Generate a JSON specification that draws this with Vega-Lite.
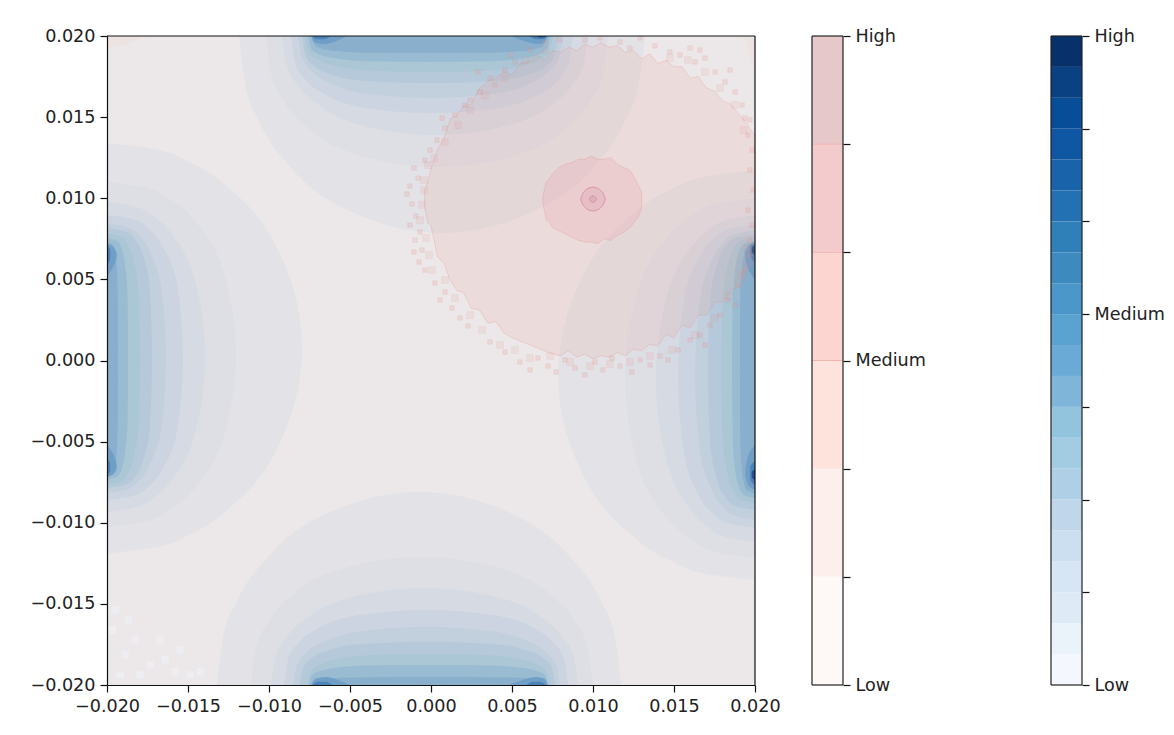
{"$schema":"https://vega.github.io/schema/vega-lite/v6.json","background":"white","padding":{"left":29,"top":27,"right":0,"bottom":0},"bounds":"flush","spacing":57,"resolve":{"scale":{"color":"independent"}},
"config":{"view":{"stroke":null},"axis":{"labelFont":"DejaVu Sans","labelFontSize":17.6,"labelColor":"#222","tickColor":"#111","domainColor":"#111","tickSize":7,"tickWidth":1.2,"domainWidth":1.2,"labelPadding":5,"grid":false,"title":null,"labelOverlap":false,"labelFlush":false}},
"datasets":{
"hlobes":[
{"k":1,"s":"L","p":0.0134,"v":-0.02,"e":-0.02},{"k":1,"s":"L","p":0.01302,"v":-0.01707,"e":-0.02},{"k":1,"s":"L","p":0.01214,"v":-0.01475,"e":-0.02},{"k":1,"s":"L","p":0.01024,"v":-0.01204,"e":-0.02},{"k":1,"s":"L","p":0.00708,"v":-0.00957,"e":-0.02},{"k":1,"s":"L","p":0.00075,"v":-0.00796,"e":-0.02},{"k":1,"s":"L","p":-0.00558,"v":-0.00957,"e":-0.02},{"k":1,"s":"L","p":-0.00874,"v":-0.01204,"e":-0.02},{"k":1,"s":"L","p":-0.01064,"v":-0.01475,"e":-0.02},{"k":1,"s":"L","p":-0.01152,"v":-0.01707,"e":-0.02},{"k":1,"s":"L","p":-0.0119,"v":-0.02,"e":-0.02},
{"k":1,"s":"R","p":0.01174,"v":0.02,"e":0.02},{"k":1,"s":"R","p":0.01136,"v":0.01705,"e":0.02},{"k":1,"s":"R","p":0.01048,"v":0.0147,"e":0.02},{"k":1,"s":"R","p":0.00858,"v":0.01196,"e":0.02},{"k":1,"s":"R","p":0.00542,"v":0.00947,"e":0.02},{"k":1,"s":"R","p":-0.0009,"v":0.00784,"e":0.02},{"k":1,"s":"R","p":-0.00722,"v":0.00947,"e":0.02},{"k":1,"s":"R","p":-0.01038,"v":0.01196,"e":0.02},{"k":1,"s":"R","p":-0.01228,"v":0.0147,"e":0.02},{"k":1,"s":"R","p":-0.01316,"v":0.01705,"e":0.02},{"k":1,"s":"R","p":-0.01353,"v":0.02,"e":0.02},
{"k":2,"s":"L","p":0.011,"v":-0.02,"e":-0.02},{"k":2,"s":"L","p":0.01068,"v":-0.0177,"e":-0.02},{"k":2,"s":"L","p":0.00994,"v":-0.01611,"e":-0.02},{"k":2,"s":"L","p":0.00834,"v":-0.01436,"e":-0.02},{"k":2,"s":"L","p":0.00569,"v":-0.01288,"e":-0.02},{"k":2,"s":"L","p":0.00037,"v":-0.01204,"e":-0.02},{"k":2,"s":"L","p":-0.00495,"v":-0.01288,"e":-0.02},{"k":2,"s":"L","p":-0.0076,"v":-0.01436,"e":-0.02},{"k":2,"s":"L","p":-0.0092,"v":-0.01611,"e":-0.02},{"k":2,"s":"L","p":-0.00994,"v":-0.0177,"e":-0.02},{"k":2,"s":"L","p":-0.01026,"v":-0.02,"e":-0.02},
{"k":2,"s":"R","p":0.01,"v":0.02,"e":0.02},{"k":2,"s":"R","p":0.00967,"v":0.01768,"e":0.02},{"k":2,"s":"R","p":0.00889,"v":0.01608,"e":0.02},{"k":2,"s":"R","p":0.00723,"v":0.01431,"e":0.02},{"k":2,"s":"R","p":0.00446,"v":0.01283,"e":0.02},{"k":2,"s":"R","p":-0.00108,"v":0.01198,"e":0.02},{"k":2,"s":"R","p":-0.00662,"v":0.01283,"e":0.02},{"k":2,"s":"R","p":-0.00939,"v":0.01431,"e":0.02},{"k":2,"s":"R","p":-0.01105,"v":0.01608,"e":0.02},{"k":2,"s":"R","p":-0.01183,"v":0.01768,"e":0.02},{"k":2,"s":"R","p":-0.01217,"v":0.02,"e":0.02},
{"k":3,"s":"L","p":0.00977,"v":-0.02,"e":-0.02},{"k":3,"s":"L","p":0.00948,"v":-0.01825,"e":-0.02},{"k":3,"s":"L","p":0.00882,"v":-0.01704,"e":-0.02},{"k":3,"s":"L","p":0.00738,"v":-0.01571,"e":-0.02},{"k":3,"s":"L","p":0.005,"v":-0.01459,"e":-0.02},{"k":3,"s":"L","p":0.00022,"v":-0.01395,"e":-0.02},{"k":3,"s":"L","p":-0.00456,"v":-0.01459,"e":-0.02},{"k":3,"s":"L","p":-0.00694,"v":-0.01571,"e":-0.02},{"k":3,"s":"L","p":-0.00838,"v":-0.01704,"e":-0.02},{"k":3,"s":"L","p":-0.00904,"v":-0.01825,"e":-0.02},{"k":3,"s":"L","p":-0.00934,"v":-0.02,"e":-0.02},
{"k":3,"s":"R","p":0.00896,"v":0.02,"e":0.02},{"k":3,"s":"R","p":0.00866,"v":0.01823,"e":0.02},{"k":3,"s":"R","p":0.00795,"v":0.01701,"e":0.02},{"k":3,"s":"R","p":0.00644,"v":0.01567,"e":0.02},{"k":3,"s":"R","p":0.00392,"v":0.01454,"e":0.02},{"k":3,"s":"R","p":-0.00112,"v":0.01389,"e":0.02},{"k":3,"s":"R","p":-0.00616,"v":0.01454,"e":0.02},{"k":3,"s":"R","p":-0.00868,"v":0.01567,"e":0.02},{"k":3,"s":"R","p":-0.01019,"v":0.01701,"e":0.02},{"k":3,"s":"R","p":-0.0109,"v":0.01823,"e":0.02},{"k":3,"s":"R","p":-0.0112,"v":0.02,"e":0.02},
{"k":4,"s":"L","p":0.00896,"v":-0.02,"e":-0.02},{"k":4,"s":"L","p":0.0087,"v":-0.01835,"e":-0.02},{"k":4,"s":"L","p":0.00808,"v":-0.01739,"e":-0.02},{"k":4,"s":"L","p":0.00677,"v":-0.01641,"e":-0.02},{"k":4,"s":"L","p":0.00457,"v":-0.01566,"e":-0.02},{"k":4,"s":"L","p":0.00018,"v":-0.01531,"e":-0.02},{"k":4,"s":"L","p":-0.00421,"v":-0.01566,"e":-0.02},{"k":4,"s":"L","p":-0.00641,"v":-0.01641,"e":-0.02},{"k":4,"s":"L","p":-0.00772,"v":-0.01739,"e":-0.02},{"k":4,"s":"L","p":-0.00834,"v":-0.01835,"e":-0.02},{"k":4,"s":"L","p":-0.0086,"v":-0.02,"e":-0.02},
{"k":4,"s":"R","p":0.00835,"v":0.02,"e":0.02},{"k":4,"s":"R","p":0.00807,"v":0.01833,"e":0.02},{"k":4,"s":"R","p":0.00742,"v":0.01735,"e":0.02},{"k":4,"s":"R","p":0.00602,"v":0.01636,"e":0.02},{"k":4,"s":"R","p":0.00369,"v":0.01561,"e":0.02},{"k":4,"s":"R","p":-0.00098,"v":0.01525,"e":0.02},{"k":4,"s":"R","p":-0.00565,"v":0.01561,"e":0.02},{"k":4,"s":"R","p":-0.00798,"v":0.01636,"e":0.02},{"k":4,"s":"R","p":-0.00938,"v":0.01735,"e":0.02},{"k":4,"s":"R","p":-0.01003,"v":0.01833,"e":0.02},{"k":4,"s":"R","p":-0.0103,"v":0.02,"e":0.02},
{"k":5,"s":"L","p":0.00847,"v":-0.02,"e":-0.02},{"k":5,"s":"L","p":0.00822,"v":-0.01872,"e":-0.02},{"k":5,"s":"L","p":0.00764,"v":-0.01797,"e":-0.02},{"k":5,"s":"L","p":0.00639,"v":-0.01721,"e":-0.02},{"k":5,"s":"L","p":0.00431,"v":-0.01663,"e":-0.02},{"k":5,"s":"L","p":0.00015,"v":-0.01636,"e":-0.02},{"k":5,"s":"L","p":-0.00401,"v":-0.01663,"e":-0.02},{"k":5,"s":"L","p":-0.00609,"v":-0.01721,"e":-0.02},{"k":5,"s":"L","p":-0.00734,"v":-0.01797,"e":-0.02},{"k":5,"s":"L","p":-0.00792,"v":-0.01872,"e":-0.02},{"k":5,"s":"L","p":-0.00817,"v":-0.02,"e":-0.02},
{"k":5,"s":"R","p":0.00804,"v":0.02,"e":0.02},{"k":5,"s":"R","p":0.00776,"v":0.0187,"e":0.02},{"k":5,"s":"R","p":0.00714,"v":0.01794,"e":0.02},{"k":5,"s":"R","p":0.0058,"v":0.01717,"e":0.02},{"k":5,"s":"R","p":0.00356,"v":0.01658,"e":0.02},{"k":5,"s":"R","p":-0.0009,"v":0.0163,"e":0.02},{"k":5,"s":"R","p":-0.00536,"v":0.01658,"e":0.02},{"k":5,"s":"R","p":-0.0076,"v":0.01717,"e":0.02},{"k":5,"s":"R","p":-0.00894,"v":0.01794,"e":0.02},{"k":5,"s":"R","p":-0.00956,"v":0.0187,"e":0.02},{"k":5,"s":"R","p":-0.00983,"v":0.02,"e":0.02},
{"k":6,"s":"L","p":0.00816,"v":-0.02,"e":-0.02},{"k":6,"s":"L","p":0.00792,"v":-0.01877,"e":-0.02},{"k":6,"s":"L","p":0.00736,"v":-0.0182,"e":-0.02},{"k":6,"s":"L","p":0.00616,"v":-0.01768,"e":-0.02},{"k":6,"s":"L","p":0.00416,"v":-0.01734,"e":-0.02},{"k":6,"s":"L","p":0.00015,"v":-0.01722,"e":-0.02},{"k":6,"s":"L","p":-0.00386,"v":-0.01734,"e":-0.02},{"k":6,"s":"L","p":-0.00586,"v":-0.01768,"e":-0.02},{"k":6,"s":"L","p":-0.00706,"v":-0.0182,"e":-0.02},{"k":6,"s":"L","p":-0.00762,"v":-0.01877,"e":-0.02},{"k":6,"s":"L","p":-0.00786,"v":-0.02,"e":-0.02},
{"k":6,"s":"R","p":0.0078,"v":0.02,"e":0.02},{"k":6,"s":"R","p":0.00755,"v":0.01872,"e":0.02},{"k":6,"s":"R","p":0.00695,"v":0.01812,"e":0.02},{"k":6,"s":"R","p":0.00568,"v":0.01758,"e":0.02},{"k":6,"s":"R","p":0.00355,"v":0.01723,"e":0.02},{"k":6,"s":"R","p":-0.0007,"v":0.0171,"e":0.02},{"k":6,"s":"R","p":-0.00495,"v":0.01723,"e":0.02},{"k":6,"s":"R","p":-0.00708,"v":0.01758,"e":0.02},{"k":6,"s":"R","p":-0.00835,"v":0.01812,"e":0.02},{"k":6,"s":"R","p":-0.00895,"v":0.01872,"e":0.02},{"k":6,"s":"R","p":-0.0092,"v":0.02,"e":0.02},
{"k":7,"s":"L","p":0.00785,"v":-0.02,"e":-0.02},{"k":7,"s":"L","p":0.00762,"v":-0.0191,"e":-0.02},{"k":7,"s":"L","p":0.00707,"v":-0.01868,"e":-0.02},{"k":7,"s":"L","p":0.00591,"v":-0.0183,"e":-0.02},{"k":7,"s":"L","p":0.00397,"v":-0.01805,"e":-0.02},{"k":7,"s":"L","p":0.00009,"v":-0.01796,"e":-0.02},{"k":7,"s":"L","p":-0.00379,"v":-0.01805,"e":-0.02},{"k":7,"s":"L","p":-0.00573,"v":-0.0183,"e":-0.02},{"k":7,"s":"L","p":-0.00689,"v":-0.01868,"e":-0.02},{"k":7,"s":"L","p":-0.00744,"v":-0.0191,"e":-0.02},{"k":7,"s":"L","p":-0.00767,"v":-0.02,"e":-0.02},
{"k":7,"s":"R","p":0.0076,"v":0.02,"e":0.02},{"k":7,"s":"R","p":0.00735,"v":0.01907,"e":0.02},{"k":7,"s":"R","p":0.00678,"v":0.01864,"e":0.02},{"k":7,"s":"R","p":0.00555,"v":0.01825,"e":0.02},{"k":7,"s":"R","p":0.0035,"v":0.01799,"e":0.02},{"k":7,"s":"R","p":-0.0006,"v":0.0179,"e":0.02},{"k":7,"s":"R","p":-0.0047,"v":0.01799,"e":0.02},{"k":7,"s":"R","p":-0.00675,"v":0.01825,"e":0.02},{"k":7,"s":"R","p":-0.00798,"v":0.01864,"e":0.02},{"k":7,"s":"R","p":-0.00855,"v":0.01907,"e":0.02},{"k":7,"s":"R","p":-0.0088,"v":0.02,"e":0.02},
{"k":8,"s":"L","p":0.00755,"v":-0.02,"e":-0.02},{"k":8,"s":"L","p":0.00733,"v":-0.01933,"e":-0.02},{"k":8,"s":"L","p":0.00681,"v":-0.01907,"e":-0.02},{"k":8,"s":"L","p":0.00569,"v":-0.01886,"e":-0.02},{"k":8,"s":"L","p":0.00383,"v":-0.01873,"e":-0.02},{"k":8,"s":"L","p":0.0001,"v":-0.0187,"e":-0.02},{"k":8,"s":"L","p":-0.00363,"v":-0.01873,"e":-0.02},{"k":8,"s":"L","p":-0.00549,"v":-0.01886,"e":-0.02},{"k":8,"s":"L","p":-0.00661,"v":-0.01907,"e":-0.02},{"k":8,"s":"L","p":-0.00713,"v":-0.01933,"e":-0.02},{"k":8,"s":"L","p":-0.00736,"v":-0.02,"e":-0.02},
{"k":8,"s":"R","p":0.0074,"v":0.02,"e":0.02},{"k":8,"s":"R","p":0.00716,"v":0.01926,"e":0.02},{"k":8,"s":"R","p":0.0066,"v":0.01898,"e":0.02},{"k":8,"s":"R","p":0.00541,"v":0.01875,"e":0.02},{"k":8,"s":"R","p":0.00343,"v":0.01862,"e":0.02},{"k":8,"s":"R","p":-0.00055,"v":0.01858,"e":0.02},{"k":8,"s":"R","p":-0.00453,"v":0.01862,"e":0.02},{"k":8,"s":"R","p":-0.00651,"v":0.01875,"e":0.02},{"k":8,"s":"R","p":-0.0077,"v":0.01898,"e":0.02},{"k":8,"s":"R","p":-0.00826,"v":0.01926,"e":0.02},{"k":8,"s":"R","p":-0.0085,"v":0.02,"e":0.02},
{"k":9,"s":"L","p":0.0073,"v":-0.02,"e":-0.02},{"k":9,"s":"L","p":0.00708,"v":-0.0196,"e":-0.02},{"k":9,"s":"L","p":0.00658,"v":-0.01948,"e":-0.02},{"k":9,"s":"L","p":0.00549,"v":-0.01938,"e":-0.02},{"k":9,"s":"L","p":0.00368,"v":-0.01933,"e":-0.02},{"k":9,"s":"L","p":0.00006,"v":-0.01932,"e":-0.02},{"k":9,"s":"L","p":-0.00356,"v":-0.01933,"e":-0.02},{"k":9,"s":"L","p":-0.00537,"v":-0.01938,"e":-0.02},{"k":9,"s":"L","p":-0.00646,"v":-0.01948,"e":-0.02},{"k":9,"s":"L","p":-0.00696,"v":-0.0196,"e":-0.02},{"k":9,"s":"L","p":-0.00718,"v":-0.02,"e":-0.02},
{"k":9,"s":"R","p":0.0072,"v":0.02,"e":0.02},{"k":9,"s":"R","p":0.00697,"v":0.01946,"e":0.02},{"k":9,"s":"R","p":0.00643,"v":0.01929,"e":0.02},{"k":9,"s":"R","p":0.00528,"v":0.01915,"e":0.02},{"k":9,"s":"R","p":0.00335,"v":0.01908,"e":0.02},{"k":9,"s":"R","p":-0.0005,"v":0.01907,"e":0.02},{"k":9,"s":"R","p":-0.00435,"v":0.01908,"e":0.02},{"k":9,"s":"R","p":-0.00628,"v":0.01915,"e":0.02},{"k":9,"s":"R","p":-0.00743,"v":0.01929,"e":0.02},{"k":9,"s":"R","p":-0.00797,"v":0.01946,"e":0.02},{"k":9,"s":"R","p":-0.0082,"v":0.02,"e":0.02},
{"k":10,"s":"LU","p":0.0072,"v":-0.02,"e":-0.02},{"k":10,"s":"LU","p":0.007,"v":-0.0196,"e":-0.02},{"k":10,"s":"LU","p":0.0065,"v":-0.0194,"e":-0.02},{"k":10,"s":"LU","p":0.0058,"v":-0.0196,"e":-0.02},{"k":10,"s":"LU","p":0.0052,"v":-0.02,"e":-0.02},
{"k":10,"s":"LL","p":-0.0052,"v":-0.02,"e":-0.02},{"k":10,"s":"LL","p":-0.0058,"v":-0.0196,"e":-0.02},{"k":10,"s":"LL","p":-0.0066,"v":-0.0194,"e":-0.02},{"k":10,"s":"LL","p":-0.007,"v":-0.0196,"e":-0.02},{"k":10,"s":"LL","p":-0.0072,"v":-0.02,"e":-0.02},
{"k":10,"s":"RU","p":0.0073,"v":0.02,"e":0.02},{"k":10,"s":"RU","p":0.0071,"v":0.0196,"e":0.02},{"k":10,"s":"RU","p":0.0065,"v":0.0194,"e":0.02},{"k":10,"s":"RU","p":0.0056,"v":0.0196,"e":0.02},{"k":10,"s":"RU","p":0.005,"v":0.02,"e":0.02},
{"k":10,"s":"RL","p":-0.0052,"v":0.02,"e":0.02},{"k":10,"s":"RL","p":-0.0058,"v":0.0196,"e":0.02},{"k":10,"s":"RL","p":-0.007,"v":0.0194,"e":0.02},{"k":10,"s":"RL","p":-0.0077,"v":0.0196,"e":0.02},{"k":10,"s":"RL","p":-0.008,"v":0.02,"e":0.02},
{"k":11,"s":"LU","p":0.0071,"v":-0.02,"e":-0.02},{"k":11,"s":"LU","p":0.0068,"v":-0.0198,"e":-0.02},{"k":11,"s":"LU","p":0.0063,"v":-0.0198,"e":-0.02},{"k":11,"s":"LU","p":0.0059,"v":-0.02,"e":-0.02},
{"k":11,"s":"LL","p":-0.006,"v":-0.02,"e":-0.02},{"k":11,"s":"LL","p":-0.0064,"v":-0.0198,"e":-0.02},{"k":11,"s":"LL","p":-0.0068,"v":-0.0198,"e":-0.02},{"k":11,"s":"LL","p":-0.0071,"v":-0.02,"e":-0.02},
{"k":11,"s":"RU","p":0.0072,"v":0.02,"e":0.02},{"k":11,"s":"RU","p":0.007,"v":0.0197,"e":0.02},{"k":11,"s":"RU","p":0.0065,"v":0.0197,"e":0.02},{"k":11,"s":"RU","p":0.006,"v":0.02,"e":0.02},
{"k":11,"s":"RL","p":-0.0062,"v":0.02,"e":0.02},{"k":11,"s":"RL","p":-0.0066,"v":0.0197,"e":0.02},{"k":11,"s":"RL","p":-0.0073,"v":0.0197,"e":0.02},{"k":11,"s":"RL","p":-0.0077,"v":0.02,"e":0.02},
{"k":12,"s":"RU","p":0.0071,"v":0.02,"e":0.02},{"k":12,"s":"RU","p":0.0069,"v":0.0198,"e":0.02},{"k":12,"s":"RU","p":0.0067,"v":0.0198,"e":0.02},{"k":12,"s":"RU","p":0.0065,"v":0.02,"e":0.02},
{"k":12,"s":"RL","p":-0.0067,"v":0.02,"e":0.02},{"k":12,"s":"RL","p":-0.0069,"v":0.0198,"e":0.02},{"k":12,"s":"RL","p":-0.0072,"v":0.0198,"e":0.02},{"k":12,"s":"RL","p":-0.0074,"v":0.02,"e":0.02}
],
"vlobes":[
{"k":1,"s":"T","p":-0.01185,"v":0.02,"e":0.02},{"k":1,"s":"T","p":-0.01147,"v":0.01705,"e":0.02},{"k":1,"s":"T","p":-0.0106,"v":0.01471,"e":0.02},{"k":1,"s":"T","p":-0.00872,"v":0.01198,"e":0.02},{"k":1,"s":"T","p":-0.00559,"v":0.00949,"e":0.02},{"k":1,"s":"T","p":0.00068,"v":0.00786,"e":0.02},{"k":1,"s":"T","p":0.00695,"v":0.00949,"e":0.02},{"k":1,"s":"T","p":0.01008,"v":0.01198,"e":0.02},{"k":1,"s":"T","p":0.01196,"v":0.01471,"e":0.02},{"k":1,"s":"T","p":0.01283,"v":0.01705,"e":0.02},{"k":1,"s":"T","p":0.01321,"v":0.02,"e":0.02},
{"k":1,"s":"B","p":-0.01321,"v":-0.02,"e":-0.02},{"k":1,"s":"B","p":-0.01284,"v":-0.01711,"e":-0.02},{"k":1,"s":"B","p":-0.01196,"v":-0.01481,"e":-0.02},{"k":1,"s":"B","p":-0.01009,"v":-0.01213,"e":-0.02},{"k":1,"s":"B","p":-0.00698,"v":-0.00969,"e":-0.02},{"k":1,"s":"B","p":-0.00074,"v":-0.0081,"e":-0.02},{"k":1,"s":"B","p":0.0055,"v":-0.00969,"e":-0.02},{"k":1,"s":"B","p":0.00861,"v":-0.01213,"e":-0.02},{"k":1,"s":"B","p":0.01048,"v":-0.01481,"e":-0.02},{"k":1,"s":"B","p":0.01136,"v":-0.01711,"e":-0.02},{"k":1,"s":"B","p":0.01173,"v":-0.02,"e":-0.02},
{"k":2,"s":"T","p":-0.01019,"v":0.02,"e":0.02},{"k":2,"s":"T","p":-0.00987,"v":0.01767,"e":0.02},{"k":2,"s":"T","p":-0.00913,"v":0.01605,"e":0.02},{"k":2,"s":"T","p":-0.00755,"v":0.01428,"e":0.02},{"k":2,"s":"T","p":-0.00491,"v":0.01279,"e":0.02},{"k":2,"s":"T","p":0.00037,"v":0.01193,"e":0.02},{"k":2,"s":"T","p":0.00565,"v":0.01279,"e":0.02},{"k":2,"s":"T","p":0.00829,"v":0.01428,"e":0.02},{"k":2,"s":"T","p":0.00987,"v":0.01605,"e":0.02},{"k":2,"s":"T","p":0.01061,"v":0.01767,"e":0.02},{"k":2,"s":"T","p":0.01093,"v":0.02,"e":0.02},
{"k":2,"s":"B","p":-0.01112,"v":-0.02,"e":-0.02},{"k":2,"s":"B","p":-0.0108,"v":-0.01772,"e":-0.02},{"k":2,"s":"B","p":-0.01006,"v":-0.01614,"e":-0.02},{"k":2,"s":"B","p":-0.00848,"v":-0.01441,"e":-0.02},{"k":2,"s":"B","p":-0.00584,"v":-0.01295,"e":-0.02},{"k":2,"s":"B","p":-0.00056,"v":-0.01211,"e":-0.02},{"k":2,"s":"B","p":0.00472,"v":-0.01295,"e":-0.02},{"k":2,"s":"B","p":0.00736,"v":-0.01441,"e":-0.02},{"k":2,"s":"B","p":0.00894,"v":-0.01614,"e":-0.02},{"k":2,"s":"B","p":0.00968,"v":-0.01772,"e":-0.02},{"k":2,"s":"B","p":0.01,"v":-0.02,"e":-0.02},
{"k":3,"s":"T","p":-0.0092,"v":0.02,"e":0.02},{"k":3,"s":"T","p":-0.00892,"v":0.01824,"e":0.02},{"k":3,"s":"T","p":-0.00826,"v":0.01702,"e":0.02},{"k":3,"s":"T","p":-0.00684,"v":0.01568,"e":0.02},{"k":3,"s":"T","p":-0.00448,"v":0.01455,"e":0.02},{"k":3,"s":"T","p":0.00025,"v":0.0139,"e":0.02},{"k":3,"s":"T","p":0.00498,"v":0.01455,"e":0.02},{"k":3,"s":"T","p":0.00734,"v":0.01568,"e":0.02},{"k":3,"s":"T","p":0.00876,"v":0.01702,"e":0.02},{"k":3,"s":"T","p":0.00942,"v":0.01824,"e":0.02},{"k":3,"s":"T","p":0.0097,"v":0.02,"e":0.02},
{"k":3,"s":"B","p":-0.00988,"v":-0.02,"e":-0.02},{"k":3,"s":"B","p":-0.0096,"v":-0.01827,"e":-0.02},{"k":3,"s":"B","p":-0.00893,"v":-0.01708,"e":-0.02},{"k":3,"s":"B","p":-0.00751,"v":-0.01576,"e":-0.02},{"k":3,"s":"B","p":-0.00514,"v":-0.01465,"e":-0.02},{"k":3,"s":"B","p":-0.0004,"v":-0.01402,"e":-0.02},{"k":3,"s":"B","p":0.00434,"v":-0.01465,"e":-0.02},{"k":3,"s":"B","p":0.00671,"v":-0.01576,"e":-0.02},{"k":3,"s":"B","p":0.00813,"v":-0.01708,"e":-0.02},{"k":3,"s":"B","p":0.0088,"v":-0.01827,"e":-0.02},{"k":3,"s":"B","p":0.00908,"v":-0.02,"e":-0.02},
{"k":4,"s":"T","p":-0.00864,"v":0.02,"e":0.02},{"k":4,"s":"T","p":-0.00838,"v":0.01833,"e":0.02},{"k":4,"s":"T","p":-0.00777,"v":0.01735,"e":0.02},{"k":4,"s":"T","p":-0.00647,"v":0.01636,"e":0.02},{"k":4,"s":"T","p":-0.00429,"v":0.01561,"e":0.02},{"k":4,"s":"T","p":0.00006,"v":0.01525,"e":0.02},{"k":4,"s":"T","p":0.00441,"v":0.01561,"e":0.02},{"k":4,"s":"T","p":0.00659,"v":0.01636,"e":0.02},{"k":4,"s":"T","p":0.00789,"v":0.01735,"e":0.02},{"k":4,"s":"T","p":0.0085,"v":0.01833,"e":0.02},{"k":4,"s":"T","p":0.00876,"v":0.02,"e":0.02},
{"k":4,"s":"B","p":-0.00907,"v":-0.02,"e":-0.02},{"k":4,"s":"B","p":-0.00881,"v":-0.01838,"e":-0.02},{"k":4,"s":"B","p":-0.00819,"v":-0.01743,"e":-0.02},{"k":4,"s":"B","p":-0.00688,"v":-0.01646,"e":-0.02},{"k":4,"s":"B","p":-0.00469,"v":-0.01573,"e":-0.02},{"k":4,"s":"B","p":-0.0003,"v":-0.01538,"e":-0.02},{"k":4,"s":"B","p":0.00409,"v":-0.01573,"e":-0.02},{"k":4,"s":"B","p":0.00628,"v":-0.01646,"e":-0.02},{"k":4,"s":"B","p":0.00759,"v":-0.01743,"e":-0.02},{"k":4,"s":"B","p":0.00821,"v":-0.01838,"e":-0.02},{"k":4,"s":"B","p":0.00847,"v":-0.02,"e":-0.02},
{"k":5,"s":"T","p":-0.00821,"v":0.02,"e":0.02},{"k":5,"s":"T","p":-0.00796,"v":0.01866,"e":0.02},{"k":5,"s":"T","p":-0.00739,"v":0.01787,"e":0.02},{"k":5,"s":"T","p":-0.00617,"v":0.01707,"e":0.02},{"k":5,"s":"T","p":-0.00412,"v":0.01647,"e":0.02},{"k":5,"s":"T","p":-0.00003,"v":0.01618,"e":0.02},{"k":5,"s":"T","p":0.00406,"v":0.01647,"e":0.02},{"k":5,"s":"T","p":0.00611,"v":0.01707,"e":0.02},{"k":5,"s":"T","p":0.00733,"v":0.01787,"e":0.02},{"k":5,"s":"T","p":0.0079,"v":0.01866,"e":0.02},{"k":5,"s":"T","p":0.00815,"v":0.02,"e":0.02},
{"k":5,"s":"B","p":-0.00852,"v":-0.02,"e":-0.02},{"k":5,"s":"B","p":-0.00827,"v":-0.01875,"e":-0.02},{"k":5,"s":"B","p":-0.0077,"v":-0.01801,"e":-0.02},{"k":5,"s":"B","p":-0.00646,"v":-0.01727,"e":-0.02},{"k":5,"s":"B","p":-0.0044,"v":-0.0167,"e":-0.02},{"k":5,"s":"B","p":-0.00028,"v":-0.01643,"e":-0.02},{"k":5,"s":"B","p":0.00384,"v":-0.0167,"e":-0.02},{"k":5,"s":"B","p":0.0059,"v":-0.01727,"e":-0.02},{"k":5,"s":"B","p":0.00714,"v":-0.01801,"e":-0.02},{"k":5,"s":"B","p":0.00771,"v":-0.01875,"e":-0.02},{"k":5,"s":"B","p":0.00796,"v":-0.02,"e":-0.02},
{"k":6,"s":"T","p":-0.00796,"v":0.02,"e":0.02},{"k":6,"s":"T","p":-0.00772,"v":0.01872,"e":0.02},{"k":6,"s":"T","p":-0.00717,"v":0.01812,"e":0.02},{"k":6,"s":"T","p":-0.00599,"v":0.01758,"e":0.02},{"k":6,"s":"T","p":-0.00401,"v":0.01723,"e":0.02},{"k":6,"s":"T","p":-0.00006,"v":0.0171,"e":0.02},{"k":6,"s":"T","p":0.00389,"v":0.01723,"e":0.02},{"k":6,"s":"T","p":0.00587,"v":0.01758,"e":0.02},{"k":6,"s":"T","p":0.00705,"v":0.01812,"e":0.02},{"k":6,"s":"T","p":0.0076,"v":0.01872,"e":0.02},{"k":6,"s":"T","p":0.00784,"v":0.02,"e":0.02},
{"k":6,"s":"B","p":-0.00809,"v":-0.02,"e":-0.02},{"k":6,"s":"B","p":-0.00785,"v":-0.01883,"e":-0.02},{"k":6,"s":"B","p":-0.0073,"v":-0.01829,"e":-0.02},{"k":6,"s":"B","p":-0.00612,"v":-0.01779,"e":-0.02},{"k":6,"s":"B","p":-0.00416,"v":-0.01747,"e":-0.02},{"k":6,"s":"B","p":-0.00022,"v":-0.01735,"e":-0.02},{"k":6,"s":"B","p":0.00372,"v":-0.01747,"e":-0.02},{"k":6,"s":"B","p":0.00568,"v":-0.01779,"e":-0.02},{"k":6,"s":"B","p":0.00686,"v":-0.01829,"e":-0.02},{"k":6,"s":"B","p":0.00741,"v":-0.01883,"e":-0.02},{"k":6,"s":"B","p":0.00765,"v":-0.02,"e":-0.02},
{"k":7,"s":"T","p":-0.00778,"v":0.02,"e":0.02},{"k":7,"s":"T","p":-0.00755,"v":0.01902,"e":0.02},{"k":7,"s":"T","p":-0.00701,"v":0.01856,"e":0.02},{"k":7,"s":"T","p":-0.00587,"v":0.01815,"e":0.02},{"k":7,"s":"T","p":-0.00395,"v":0.01788,"e":0.02},{"k":7,"s":"T","p":-0.00012,"v":0.01778,"e":0.02},{"k":7,"s":"T","p":0.00371,"v":0.01788,"e":0.02},{"k":7,"s":"T","p":0.00563,"v":0.01815,"e":0.02},{"k":7,"s":"T","p":0.00677,"v":0.01856,"e":0.02},{"k":7,"s":"T","p":0.00731,"v":0.01902,"e":0.02},{"k":7,"s":"T","p":0.00754,"v":0.02,"e":0.02},
{"k":7,"s":"B","p":-0.00765,"v":-0.02,"e":-0.02},{"k":7,"s":"B","p":-0.00743,"v":-0.01915,"e":-0.02},{"k":7,"s":"B","p":-0.0069,"v":-0.01876,"e":-0.02},{"k":7,"s":"B","p":-0.00578,"v":-0.01841,"e":-0.02},{"k":7,"s":"B","p":-0.0039,"v":-0.01817,"e":-0.02},{"k":7,"s":"B","p":-0.00015,"v":-0.01809,"e":-0.02},{"k":7,"s":"B","p":0.0036,"v":-0.01817,"e":-0.02},{"k":7,"s":"B","p":0.00548,"v":-0.01841,"e":-0.02},{"k":7,"s":"B","p":0.0066,"v":-0.01876,"e":-0.02},{"k":7,"s":"B","p":0.00713,"v":-0.01915,"e":-0.02},{"k":7,"s":"B","p":0.00735,"v":-0.02,"e":-0.02},
{"k":8,"s":"T","p":-0.00759,"v":0.02,"e":0.02},{"k":8,"s":"T","p":-0.00737,"v":0.01917,"e":0.02},{"k":8,"s":"T","p":-0.00684,"v":0.01886,"e":0.02},{"k":8,"s":"T","p":-0.00572,"v":0.0186,"e":0.02},{"k":8,"s":"T","p":-0.00386,"v":0.01844,"e":0.02},{"k":8,"s":"T","p":-0.00012,"v":0.0184,"e":0.02},{"k":8,"s":"T","p":0.00362,"v":0.01844,"e":0.02},{"k":8,"s":"T","p":0.00548,"v":0.0186,"e":0.02},{"k":8,"s":"T","p":0.0066,"v":0.01886,"e":0.02},{"k":8,"s":"T","p":0.00713,"v":0.01917,"e":0.02},{"k":8,"s":"T","p":0.00735,"v":0.02,"e":0.02},
{"k":8,"s":"B","p":-0.00753,"v":-0.02,"e":-0.02},{"k":8,"s":"B","p":-0.00731,"v":-0.01936,"e":-0.02},{"k":8,"s":"B","p":-0.00679,"v":-0.01912,"e":-0.02},{"k":8,"s":"B","p":-0.00569,"v":-0.01892,"e":-0.02},{"k":8,"s":"B","p":-0.00384,"v":-0.0188,"e":-0.02},{"k":8,"s":"B","p":-0.00015,"v":-0.01877,"e":-0.02},{"k":8,"s":"B","p":0.00354,"v":-0.0188,"e":-0.02},{"k":8,"s":"B","p":0.00539,"v":-0.01892,"e":-0.02},{"k":8,"s":"B","p":0.00649,"v":-0.01912,"e":-0.02},{"k":8,"s":"B","p":0.00701,"v":-0.01936,"e":-0.02},{"k":8,"s":"B","p":0.00723,"v":-0.02,"e":-0.02},
{"k":9,"s":"T","p":-0.00735,"v":0.02,"e":0.02},{"k":9,"s":"T","p":-0.00713,"v":0.01939,"e":0.02},{"k":9,"s":"T","p":-0.00663,"v":0.0192,"e":0.02},{"k":9,"s":"T","p":-0.00554,"v":0.01905,"e":0.02},{"k":9,"s":"T","p":-0.00373,"v":0.01897,"e":0.02},{"k":9,"s":"T","p":-0.0001,"v":0.01895,"e":0.02},{"k":9,"s":"T","p":0.00353,"v":0.01897,"e":0.02},{"k":9,"s":"T","p":0.00534,"v":0.01905,"e":0.02},{"k":9,"s":"T","p":0.00643,"v":0.0192,"e":0.02},{"k":9,"s":"T","p":0.00693,"v":0.01939,"e":0.02},{"k":9,"s":"T","p":0.00715,"v":0.02,"e":0.02},
{"k":9,"s":"B","p":-0.0074,"v":-0.02,"e":-0.02},{"k":9,"s":"B","p":-0.00718,"v":-0.01971,"e":-0.02},{"k":9,"s":"B","p":-0.00667,"v":-0.01962,"e":-0.02},{"k":9,"s":"B","p":-0.00558,"v":-0.01955,"e":-0.02},{"k":9,"s":"B","p":-0.00376,"v":-0.01952,"e":-0.02},{"k":9,"s":"B","p":-0.00012,"v":-0.01951,"e":-0.02},{"k":9,"s":"B","p":0.00352,"v":-0.01952,"e":-0.02},{"k":9,"s":"B","p":0.00534,"v":-0.01955,"e":-0.02},{"k":9,"s":"B","p":0.00643,"v":-0.01962,"e":-0.02},{"k":9,"s":"B","p":0.00694,"v":-0.01971,"e":-0.02},{"k":9,"s":"B","p":0.00716,"v":-0.02,"e":-0.02},
{"k":10,"s":"TL","p":-0.0074,"v":0.02,"e":0.02},{"k":10,"s":"TL","p":-0.0072,"v":0.0196,"e":0.02},{"k":10,"s":"TL","p":-0.0066,"v":0.0195,"e":0.02},{"k":10,"s":"TL","p":-0.0058,"v":0.0197,"e":0.02},{"k":10,"s":"TL","p":-0.0052,"v":0.02,"e":0.02},
{"k":10,"s":"TR","p":0.005,"v":0.02,"e":0.02},{"k":10,"s":"TR","p":0.0057,"v":0.0197,"e":0.02},{"k":10,"s":"TR","p":0.0066,"v":0.0195,"e":0.02},{"k":10,"s":"TR","p":0.007,"v":0.0196,"e":0.02},{"k":10,"s":"TR","p":0.0072,"v":0.02,"e":0.02},
{"k":10,"s":"BL","p":-0.0074,"v":-0.02,"e":-0.02},{"k":10,"s":"BL","p":-0.0071,"v":-0.0196,"e":-0.02},{"k":10,"s":"BL","p":-0.0065,"v":-0.0195,"e":-0.02},{"k":10,"s":"BL","p":-0.0057,"v":-0.0197,"e":-0.02},{"k":10,"s":"BL","p":-0.005,"v":-0.02,"e":-0.02},
{"k":10,"s":"BR","p":0.0048,"v":-0.02,"e":-0.02},{"k":10,"s":"BR","p":0.0056,"v":-0.0197,"e":-0.02},{"k":10,"s":"BR","p":0.0065,"v":-0.0195,"e":-0.02},{"k":10,"s":"BR","p":0.007,"v":-0.0196,"e":-0.02},{"k":10,"s":"BR","p":0.0072,"v":-0.02,"e":-0.02},
{"k":11,"s":"TL","p":-0.0073,"v":0.02,"e":0.02},{"k":11,"s":"TL","p":-0.0071,"v":0.0198,"e":0.02},{"k":11,"s":"TL","p":-0.0066,"v":0.0198,"e":0.02},{"k":11,"s":"TL","p":-0.0062,"v":0.02,"e":0.02},
{"k":11,"s":"TR","p":0.0061,"v":0.02,"e":0.02},{"k":11,"s":"TR","p":0.0065,"v":0.0198,"e":0.02},{"k":11,"s":"TR","p":0.0069,"v":0.0198,"e":0.02},{"k":11,"s":"TR","p":0.0072,"v":0.02,"e":0.02},
{"k":11,"s":"BL","p":-0.0073,"v":-0.02,"e":-0.02},{"k":11,"s":"BL","p":-0.007,"v":-0.0198,"e":-0.02},{"k":11,"s":"BL","p":-0.0065,"v":-0.0198,"e":-0.02},{"k":11,"s":"BL","p":-0.0061,"v":-0.02,"e":-0.02},
{"k":11,"s":"BR","p":0.0059,"v":-0.02,"e":-0.02},{"k":11,"s":"BR","p":0.0063,"v":-0.0198,"e":-0.02},{"k":11,"s":"BR","p":0.0067,"v":-0.0198,"e":-0.02},{"k":11,"s":"BR","p":0.0071,"v":-0.02,"e":-0.02},
{"k":12,"s":"TR","p":0.0065,"v":0.02,"e":0.02},{"k":12,"s":"TR","p":0.0067,"v":0.0199,"e":0.02},{"k":12,"s":"TR","p":0.0069,"v":0.0199,"e":0.02},{"k":12,"s":"TR","p":0.0071,"v":0.02,"e":0.02}
],
"tint":[
{"k":25,"s":"tl","p":-0.02,"v":0.0193,"e":0.02},{"k":25,"s":"tl","p":-0.019,"v":0.0194,"e":0.02},{"k":25,"s":"tl","p":-0.018,"v":0.0198,"e":0.02},{"k":25,"s":"tl","p":-0.0175,"v":0.02,"e":0.02},
{"k":25,"s":"tr","p":0.0193,"v":0.02,"e":0.02},{"k":25,"s":"tr","p":0.0196,"v":0.019,"e":0.02},{"k":25,"s":"tr","p":0.02,"v":0.0175,"e":0.02}
],
"red":[
{"k":21,"s":"c","p":-0.0004,"v":0.0095,"e":0.0105},{"k":21,"s":"c","p":-0.0002,"v":0.0085,"e":0.011},{"k":21,"s":"c","p":0,"v":0.0083,"e":0.0118},{"k":21,"s":"c","p":0.0004,"v":0.0064,"e":0.013},{"k":21,"s":"c","p":0.0008,"v":0.006,"e":0.0137},{"k":21,"s":"c","p":0.0012,"v":0.0049,"e":0.0149},{"k":21,"s":"c","p":0.0016,"v":0.0043,"e":0.0151},{"k":21,"s":"c","p":0.002,"v":0.0042,"e":0.0157},{"k":21,"s":"c","p":0.0025,"v":0.0032,"e":0.0158},{"k":21,"s":"c","p":0.003,"v":0.0031,"e":0.0168},{"k":21,"s":"c","p":0.0035,"v":0.0023,"e":0.0172},{"k":21,"s":"c","p":0.004,"v":0.0024,"e":0.0174},{"k":21,"s":"c","p":0.0045,"v":0.0017,"e":0.0178},{"k":21,"s":"c","p":0.005,"v":0.0014,"e":0.0176},{"k":21,"s":"c","p":0.0055,"v":0.0012,"e":0.0183},{"k":21,"s":"c","p":0.006,"v":0.001,"e":0.0184},{"k":21,"s":"c","p":0.0065,"v":0.0008,"e":0.0189},{"k":21,"s":"c","p":0.007,"v":0.0006,"e":0.0185},{"k":21,"s":"c","p":0.0075,"v":0.0004,"e":0.0191},{"k":21,"s":"c","p":0.008,"v":0.0003,"e":0.019},{"k":21,"s":"c","p":0.0085,"v":0.0006,"e":0.0193},{"k":21,"s":"c","p":0.009,"v":0.0002,"e":0.0191},{"k":21,"s":"c","p":0.0095,"v":0.0004,"e":0.0195},{"k":21,"s":"c","p":0.01,"v":0.0001,"e":0.0193},{"k":21,"s":"c","p":0.0105,"v":0.0003,"e":0.0196},{"k":21,"s":"c","p":0.011,"v":0.0002,"e":0.0193},{"k":21,"s":"c","p":0.0115,"v":0.0005,"e":0.0194},{"k":21,"s":"c","p":0.012,"v":0.0003,"e":0.019},{"k":21,"s":"c","p":0.0125,"v":0.0007,"e":0.0191},{"k":21,"s":"c","p":0.013,"v":0.0006,"e":0.0186},{"k":21,"s":"c","p":0.0135,"v":0.001,"e":0.0189},{"k":21,"s":"c","p":0.014,"v":0.0009,"e":0.0183},{"k":21,"s":"c","p":0.0145,"v":0.0016,"e":0.0185},{"k":21,"s":"c","p":0.015,"v":0.0014,"e":0.0181},{"k":21,"s":"c","p":0.0155,"v":0.0022,"e":0.0181},{"k":21,"s":"c","p":0.016,"v":0.002,"e":0.0174},{"k":21,"s":"c","p":0.0165,"v":0.0028,"e":0.0175},{"k":21,"s":"c","p":0.017,"v":0.0028,"e":0.0168},{"k":21,"s":"c","p":0.0175,"v":0.0036,"e":0.0166},{"k":21,"s":"c","p":0.018,"v":0.0036,"e":0.016},{"k":21,"s":"c","p":0.0185,"v":0.0043,"e":0.0158},{"k":21,"s":"c","p":0.019,"v":0.0045,"e":0.0152},{"k":21,"s":"c","p":0.0195,"v":0.0056,"e":0.0146},{"k":21,"s":"c","p":0.02,"v":0.006,"e":0.0138},
{"k":22,"s":"c","p":0.0069,"v":0.0097,"e":0.0101},{"k":22,"s":"c","p":0.0071,"v":0.0087,"e":0.011},{"k":22,"s":"c","p":0.0073,"v":0.0085,"e":0.0112},{"k":22,"s":"c","p":0.0075,"v":0.0082,"e":0.0115},{"k":22,"s":"c","p":0.0079,"v":0.008,"e":0.0119},{"k":22,"s":"c","p":0.0083,"v":0.0078,"e":0.0121},{"k":22,"s":"c","p":0.0087,"v":0.0076,"e":0.0122},{"k":22,"s":"c","p":0.0091,"v":0.0074,"e":0.0124},{"k":22,"s":"c","p":0.0095,"v":0.0073,"e":0.0124},{"k":22,"s":"c","p":0.0099,"v":0.0073,"e":0.0126},{"k":22,"s":"c","p":0.0103,"v":0.0072,"e":0.0124},{"k":22,"s":"c","p":0.0107,"v":0.0075,"e":0.0124},{"k":22,"s":"c","p":0.0111,"v":0.0074,"e":0.0125},{"k":22,"s":"c","p":0.0115,"v":0.0077,"e":0.0121},{"k":22,"s":"c","p":0.0119,"v":0.0079,"e":0.0119},{"k":22,"s":"c","p":0.0123,"v":0.0082,"e":0.0117},{"k":22,"s":"c","p":0.0126,"v":0.0086,"e":0.0112},{"k":22,"s":"c","p":0.0128,"v":0.0088,"e":0.0108},{"k":22,"s":"c","p":0.013,"v":0.0094,"e":0.0104}
],
"core":[
{"k":23,"p":0.00926,"v":0.00985,"e":0.01005},{"k":23,"p":0.0094,"v":0.00955,"e":0.01035},{"k":23,"p":0.0096,"v":0.00935,"e":0.01055},{"k":23,"p":0.0098,"v":0.00925,"e":0.01065},{"k":23,"p":0.01,"v":0.00921,"e":0.01069},{"k":23,"p":0.0102,"v":0.00925,"e":0.01065},{"k":23,"p":0.0104,"v":0.00935,"e":0.01055},{"k":23,"p":0.0106,"v":0.00955,"e":0.01035},{"k":23,"p":0.01074,"v":0.00985,"e":0.01005},
{"k":24,"p":0.00978,"v":0.00993,"e":0.00997},{"k":24,"p":0.00985,"v":0.00982,"e":0.01008},{"k":24,"p":0.01,"v":0.00973,"e":0.01017},{"k":24,"p":0.01015,"v":0.00982,"e":0.01008},{"k":24,"p":0.01022,"v":0.00993,"e":0.00997}
],
"specks":[
{"k":21,"a":-0.0013,"b":0.01075},{"k":21,"a":-0.00105,"b":0.01186},{"k":21,"a":-0.0008,"b":0.01124},{"k":21,"a":-0.00148,"b":0.01026},{"k":21,"a":-0.00117,"b":0.00964},{"k":21,"a":-0.00093,"b":0.0089},{"k":21,"a":-0.0013,"b":0.00835},{"k":21,"a":-0.00068,"b":0.00792},{"k":21,"a":-0.00099,"b":0.00742},{"k":21,"a":-0.00056,"b":0.00681},{"k":21,"a":-0.00105,"b":0.00668},{"k":21,"a":-0.00074,"b":0.00607},{"k":21,"a":-0.00037,"b":0.00557},{"k":21,"a":0.00025,"b":0.00477},{"k":21,"a":0.00086,"b":0.00422},{"k":21,"a":0.00056,"b":0.00373},{"k":21,"a":0.0013,"b":0.00323},{"k":21,"a":0.00179,"b":0.00262},{"k":21,"a":0.00228,"b":0.00213},{"k":21,"a":0.00364,"b":0.00114},{"k":21,"a":0.00457,"b":0.00052},{"k":21,"a":0.00549,"b":-0.00009},{"k":21,"a":0.00611,"b":-0.00058},{"k":21,"a":0.0066,"b":0.00015},{"k":21,"a":0.00722,"b":-0.00034},{"k":21,"a":0.00772,"b":-0.00071},{"k":21,"a":0.00827,"b":0.00003},{"k":21,"a":0.00889,"b":-0.00046},{"k":21,"a":0.0095,"b":-0.00089},{"k":21,"a":0.01012,"b":-0.00009},{"k":21,"a":0.01061,"b":-0.00058},{"k":21,"a":0.01117,"b":0.00015},{"k":21,"a":0.01167,"b":-0.00034},{"k":21,"a":0.0124,"b":-0.00071},{"k":21,"a":0.0129,"b":0.00003},{"k":21,"a":0.01352,"b":-0.00028},{"k":21,"a":0.01414,"b":0.00028},{"k":21,"a":0.01463,"b":0.00003},{"k":21,"a":0.01525,"b":0.00065},{"k":21,"a":0.01599,"b":0.00126},{"k":21,"a":0.01691,"b":0.00095},{"k":21,"a":0.0166,"b":0.00157},{"k":21,"a":0.01722,"b":0.00219},{"k":21,"a":0.01784,"b":0.0028},{"k":21,"a":0.01877,"b":0.00342},{"k":21,"a":0.01833,"b":0.00373},{"k":21,"a":0.01895,"b":0.00465},{"k":21,"a":0.01938,"b":0.00557},{"k":21,"a":0.01969,"b":0.0065},{"k":21,"a":0.01969,"b":0.00742},{"k":21,"a":0.01981,"b":0.00835},{"k":21,"a":0.01957,"b":0.00927},{"k":21,"a":0.01988,"b":0.0105},{"k":21,"a":0.01969,"b":0.01174},{"k":21,"a":0.01981,"b":0.01297},{"k":21,"a":0.01957,"b":0.01389},{"k":21,"a":0.01969,"b":0.01482},{"k":21,"a":0.01938,"b":0.01494},{"k":21,"a":0.0192,"b":0.01575},{"k":21,"a":0.01877,"b":0.01655},{"k":21,"a":0.01815,"b":0.01717},{"k":21,"a":0.01846,"b":0.0179},{"k":21,"a":0.01753,"b":0.01778},{"k":21,"a":0.01691,"b":0.01864},{"k":21,"a":0.0163,"b":0.0184},{"k":21,"a":0.01537,"b":0.01883},{"k":21,"a":0.01475,"b":0.01901},{"k":21,"a":0.0166,"b":0.01914},{"k":21,"a":0.01599,"b":0.01926},{"k":21,"a":0.01383,"b":0.01939},{"k":21,"a":0.0129,"b":0.01988},{"k":21,"a":0.01228,"b":0.01926},{"k":21,"a":0.01167,"b":0.01963},{"k":21,"a":0.01043,"b":0.01988},{"k":21,"a":0.0095,"b":0.01975},{"k":21,"a":0.00796,"b":0.01975},{"k":21,"a":0.00704,"b":0.01963},{"k":21,"a":0.00611,"b":0.01914},{"k":21,"a":0.00488,"b":0.01883},{"k":21,"a":0.00519,"b":0.01839},{"k":21,"a":0.00457,"b":0.0179},{"k":21,"a":0.00364,"b":0.0174},{"k":21,"a":0.0029,"b":0.01778},{"k":21,"a":0.00395,"b":0.01698},{"k":21,"a":0.00302,"b":0.01655},{"k":21,"a":0.00241,"b":0.01605},{"k":21,"a":0.0021,"b":0.01574},{"k":21,"a":0.00148,"b":0.01513},{"k":21,"a":0.00068,"b":0.01494},{"k":21,"a":0.00086,"b":0.01432},{"k":21,"a":0.00037,"b":0.01358},{"k":21,"a":-0.00006,"b":0.01297},{"k":21,"a":-0.00037,"b":0.01235}
],
"specks2":[
{"k":21,"a":-0.00043,"b":0.0105},{"k":21,"a":-0.00056,"b":0.00958},{"k":21,"a":-0.00068,"b":0.00865},{"k":21,"a":-0.00031,"b":0.00755},{"k":21,"a":-0.00043,"b":0.01112},{"k":21,"a":-0.00019,"b":0.01204},{"k":21,"a":-0.00012,"b":0.0065},{"k":21,"a":0.00006,"b":0.00557},{"k":21,"a":0.00086,"b":0.00496},{"k":21,"a":0.00148,"b":0.00385},{"k":21,"a":0.00241,"b":0.0028},{"k":21,"a":0.00315,"b":0.00188},{"k":21,"a":0.00426,"b":0.00096},{"k":21,"a":0.00518,"b":0.00065},{"k":21,"a":0.00611,"b":0.00015},{"k":21,"a":0.00734,"b":0.00028},{"k":21,"a":0.00858,"b":-0.00009},{"k":21,"a":0.00981,"b":-0.00034},{"k":21,"a":0.01104,"b":-0.00022},{"k":21,"a":0.01228,"b":-0.00009},{"k":21,"a":0.01351,"b":0.00028},{"k":21,"a":0.01487,"b":0.00065},{"k":21,"a":0.01629,"b":0.00157},{"k":21,"a":0.01752,"b":0.00262},{"k":21,"a":0.01845,"b":0.00397},{"k":21,"a":0.01919,"b":0.00527},{"k":21,"a":0.01956,"b":0.00693},{"k":21,"a":0.01931,"b":0.0142},{"k":21,"a":0.01876,"b":0.01575},{"k":21,"a":0.01783,"b":0.01679},{"k":21,"a":0.01691,"b":0.01778},{"k":21,"a":0.01586,"b":0.01852},{"k":21,"a":0.01475,"b":0.01864},{"k":21,"a":0.00703,"b":0.01913},{"k":21,"a":0.0058,"b":0.01851},{"k":21,"a":0.00457,"b":0.0174},{"k":21,"a":0.00333,"b":0.01635},{"k":21,"a":0.00241,"b":0.01543},{"k":21,"a":0.00167,"b":0.0145},{"k":21,"a":0.00086,"b":0.01346},{"k":21,"a":0.00019,"b":0.01247}
],
"pale":[
{"k":26,"a":-0.01968,"b":-0.0166},{"k":26,"a":-0.01888,"b":-0.01814},{"k":26,"a":-0.01919,"b":-0.01937},{"k":26,"a":-0.01826,"b":-0.01722},{"k":26,"a":-0.01734,"b":-0.01876},{"k":26,"a":-0.01641,"b":-0.01845},{"k":26,"a":-0.01549,"b":-0.01783},{"k":26,"a":-0.0158,"b":-0.01919},{"k":26,"a":-0.01795,"b":-0.01937},{"k":26,"a":-0.0195,"b":-0.01537},{"k":26,"a":-0.01869,"b":-0.01599},{"k":26,"a":-0.01672,"b":-0.01722},{"k":26,"a":-0.01487,"b":-0.01937},{"k":26,"a":-0.01425,"b":-0.01919}
],
"redbar":[{"k":0,"lo":0,"hi":1},{"k":1,"lo":1,"hi":2},{"k":2,"lo":2,"hi":3},{"k":3,"lo":3,"hi":4},{"k":4,"lo":4,"hi":5},{"k":5,"lo":5,"hi":6}],
"bluebar":[{"k":0,"lo":0,"hi":1},{"k":1,"lo":1,"hi":2},{"k":2,"lo":2,"hi":3},{"k":3,"lo":3,"hi":4},{"k":4,"lo":4,"hi":5},{"k":5,"lo":5,"hi":6},{"k":6,"lo":6,"hi":7},{"k":7,"lo":7,"hi":8},{"k":8,"lo":8,"hi":9},{"k":9,"lo":9,"hi":10},{"k":10,"lo":10,"hi":11},{"k":11,"lo":11,"hi":12},{"k":12,"lo":12,"hi":13},{"k":13,"lo":13,"hi":14},{"k":14,"lo":14,"hi":15},{"k":15,"lo":15,"hi":16},{"k":16,"lo":16,"hi":17},{"k":17,"lo":17,"hi":18},{"k":18,"lo":18,"hi":19},{"k":19,"lo":19,"hi":20},{"k":20,"lo":20,"hi":21}],
"redlines":[{"t":3},{"t":4},{"t":5}]
},
"hconcat":[
{"width":648,"height":649,"view":{"fill":"#ece8e9"},
"layer":[
{"data":{"name":"hlobes"},"mark":{"type":"area","orient":"horizontal","interpolate":"monotone","clip":true},"encoding":{
"y":{"field":"p","type":"quantitative","scale":{"domain":[-0.02,0.02],"nice":false,"zero":false},"axis":{"values":[-0.02,-0.015,-0.01,-0.005,0,0.005,0.01,0.015,0.02],"format":".3f","zindex":1}},
"x":{"field":"v","type":"quantitative","stack":null,"scale":{"domain":[-0.02,0.02],"nice":false,"zero":false},"axis":{"values":[-0.02,-0.015,-0.01,-0.005,0,0.005,0.01,0.015,0.02],"format":".3f","zindex":1}},
"x2":{"field":"e"},
"color":{"field":"k","type":"ordinal","legend":null,"scale":{"domain":[1,2,3,4,5,6,7,8,9,10,11,12,21,22,23,24,25,26],"range":["#e3e2e6","#dedee5","#d6dae3","#ccd4e1","#c2cfdd","#b6c9da","#abc6d5","#99bcd2","#89afcd","#6f9fc7","#4c84b9","#24508f","#ec988c","#ec7892","#c85a80","#a84a78","#f8c0a8","#eef0f8"]}},
"detail":{"field":"s"}}},
{"data":{"name":"vlobes"},"mark":{"type":"area","orient":"vertical","interpolate":"monotone","clip":true},"encoding":{
"x":{"field":"p","type":"quantitative"},
"y":{"field":"v","type":"quantitative","stack":null},
"y2":{"field":"e"},
"color":{"field":"k","type":"ordinal"},
"detail":{"field":"s"}}},
{"data":{"name":"pale"},"mark":{"type":"square","size":55,"opacity":0.6,"clip":true},"encoding":{"x":{"field":"a","type":"quantitative"},"y":{"field":"b","type":"quantitative"},"color":{"field":"k","type":"ordinal"}}},
{"data":{"name":"tint"},"mark":{"type":"area","orient":"vertical","clip":true,"fillOpacity":0.1},"encoding":{
"x":{"field":"p","type":"quantitative"},
"y":{"field":"v","type":"quantitative","stack":null},
"y2":{"field":"e"},
"color":{"field":"k","type":"ordinal"},
"detail":{"field":"s"}}},
{"data":{"name":"red"},"mark":{"type":"area","orient":"vertical","clip":true,"fillOpacity":0.15,"stroke":"#e58b85","strokeOpacity":0.3,"strokeWidth":0.9},"encoding":{
"x":{"field":"p","type":"quantitative"},
"y":{"field":"v","type":"quantitative","stack":null},
"y2":{"field":"e"},
"color":{"field":"k","type":"ordinal"},
"detail":{"field":"s"}}},
{"data":{"name":"specks"},"mark":{"type":"square","size":20,"fillOpacity":0.2,"stroke":"#e58b85","strokeOpacity":0.2,"strokeWidth":0.7,"clip":true},"encoding":{"x":{"field":"a","type":"quantitative"},"y":{"field":"b","type":"quantitative"},"color":{"field":"k","type":"ordinal"}}},
{"data":{"name":"specks2"},"mark":{"type":"square","size":48,"fillOpacity":0.14,"stroke":"#e58b85","strokeOpacity":0.12,"strokeWidth":0.7,"clip":true},"encoding":{"x":{"field":"a","type":"quantitative"},"y":{"field":"b","type":"quantitative"},"color":{"field":"k","type":"ordinal"}}},
{"data":{"name":"core"},"mark":{"type":"area","orient":"vertical","clip":true,"fillOpacity":0.12,"stroke":"#d98a98","strokeOpacity":0.8,"strokeWidth":1},"encoding":{
"x":{"field":"p","type":"quantitative"},
"y":{"field":"v","type":"quantitative","stack":null},
"y2":{"field":"e"},
"color":{"field":"k","type":"ordinal"}}},
{"data":{"values":[{"t":0.02}]},"mark":{"type":"rule","color":"#111","strokeWidth":1.2},"encoding":{"x":{"field":"t","type":"quantitative"}}},
{"data":{"values":[{"t":0.02}]},"mark":{"type":"rule","color":"#111","strokeWidth":1.2},"encoding":{"y":{"field":"t","type":"quantitative"}}}
]},
{"hconcat":[
{"width":31,"height":649,
"layer":[
{"data":{"name":"redbar"},"mark":{"type":"rect"},"encoding":{
"x":{"datum":0,"scale":{"domain":[0,1],"nice":false},"axis":null},"x2":{"datum":1},
"y":{"field":"lo","type":"quantitative","scale":{"domain":[0,6],"nice":false},"axis":{"orient":"right","values":[0,1,2,3,4,5,6],"labelExpr":"datum.value==0?'Low':datum.value==3?'Medium':datum.value==6?'High':''","domain":false,"zindex":1}},
"y2":{"field":"hi"},
"color":{"field":"k","type":"ordinal","legend":null,"scale":{"domain":[0,1,2,3,4,5],"range":["#fef9f6","#fdefeb","#fee2dc","#fcd5d0","#f3cbcd","#e6c8ca"]}}}},
{"data":{"name":"redlines"},"mark":{"type":"rule","color":"#f2b5b0","strokeWidth":1},"encoding":{"y":{"field":"t","type":"quantitative"}}},
{"data":{"values":[{"t":0},{"t":1}]},"mark":{"type":"rule","color":"#222","strokeWidth":1.2},"encoding":{"x":{"field":"t","type":"quantitative"}}},
{"data":{"values":[{"t":0},{"t":6}]},"mark":{"type":"rule","color":"#222","strokeWidth":1.2},"encoding":{"y":{"field":"t","type":"quantitative"}}}
]},
{"width":31,"height":649,
"layer":[
{"data":{"name":"bluebar"},"mark":{"type":"rect"},"encoding":{
"x":{"datum":0,"scale":{"domain":[0,1],"nice":false},"axis":null},"x2":{"datum":1},
"y":{"field":"lo","type":"quantitative","scale":{"domain":[0,21],"nice":false},"axis":{"orient":"right","values":[0,3,6,9,12,15,18,21],"labelExpr":"datum.value==0?'Low':datum.value==12?'Medium':datum.value==21?'High':''","domain":false,"zindex":1}},
"y2":{"field":"hi"},
"color":{"field":"k","type":"ordinal","legend":null,"scale":{"domain":[0,1,2,3,4,5,6,7,8,9,10,11,12,13,14,15,16,17,18,19,20],"range":["#f4f8fe","#eaf2fa","#deebf7","#d6e6f4","#cbdff0","#c0d6ea","#aecfe5","#a3cbe2","#93c4de","#7fb5d8","#69aad6","#5aa3d1","#4b97c9","#3d8abf","#2f7fb9","#2370b2","#1863a9","#0f57a2","#084d97","#0a4183","#08306b"]}}}},
{"data":{"values":[{"t":0},{"t":1}]},"mark":{"type":"rule","color":"#222","strokeWidth":1.2},"encoding":{"x":{"field":"t","type":"quantitative"}}},
{"data":{"values":[{"t":0},{"t":21}]},"mark":{"type":"rule","color":"#222","strokeWidth":1.2},"encoding":{"y":{"field":"t","type":"quantitative"}}}
]}
],"spacing":208,"bounds":"flush","resolve":{"scale":{"color":"independent"}}}
]}
